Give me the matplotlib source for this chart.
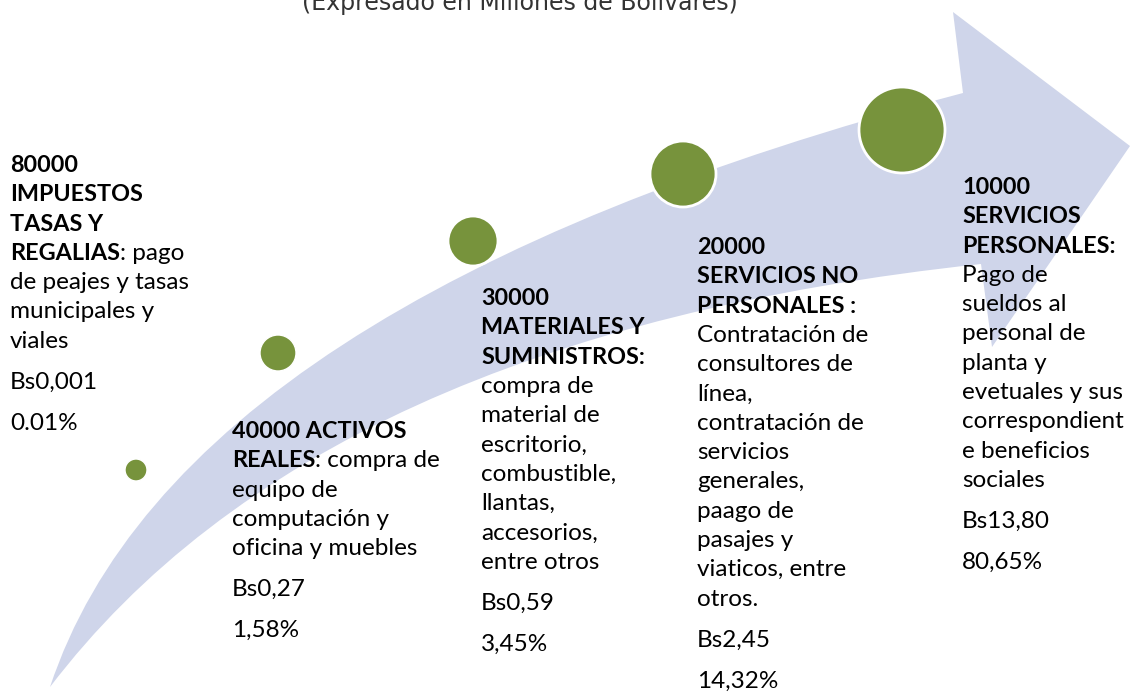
import matplotlib.pyplot as plt
from matplotlib.path import Path
from matplotlib.patches import PathPatch, Circle

# partidas del presupuesto (texto de cada bloque, *negrita*)
codigos = ["80000", "40000", "30000", "20000", "10000"]
bloques = [
    ["*80000*", "*IMPUESTOS*", "*TASAS Y*", "*REGALIAS*: pago",
     "de peajes y tasas", "municipales y", "viales"],
    ["*40000 ACTIVOS*", "*REALES*: compra de", "equipo de",
     "computación y", "oficina y muebles"],
    ["*30000*", "*MATERIALES Y*", "*SUMINISTROS:*", "compra de",
     "material de", "escritorio,", "combustible,", "llantas,",
     "accesorios,", "entre otros"],
    ["*20000*", "*SERVICIOS NO*", "*PERSONALES :*", "Contratación de",
     "consultores de", "línea,", "contratación de", "servicios",
     "generales,", "paago de", "pasajes y", "viaticos, entre", "otros."],
    ["*10000*", "*SERVICIOS*", "*PERSONALES:*", "Pago de", "sueldos al",
     "personal de", "planta y", "evetuales y sus", "correspondient",
     "e beneficios", "sociales"],
]
montos = ["Bs0,001", "Bs0,27", "Bs0,59", "Bs2,45", "Bs13,80"]
porcentajes = ["0.01%", "1,58%", "3,45%", "14,32%", "80,65%"]

# layout en pixeles
bloque_x = [10, 232, 481, 697, 962]
bloque_y = [165, 431, 298, 247, 187]
circ_x = [136, 278, 473, 683, 902]
circ_y = [470, 353, 241, 174, 130]
circ_r = [11, 18, 25, 33, 43]

FONT = "Lato"
FS_REG = 17.5
FS_BOLD = 16.8

fig = plt.figure(figsize=(11.31, 6.92), dpi=100)
ax = fig.add_axes([0, 0, 1, 1])
ax.set_xlim(0, 1131)
ax.set_ylim(692, 0)
ax.axis("off")

# flecha curva
verts = [(50, 687), (178, 300), (963, 93),
         (953, 12), (1130, 146), (992, 347), (981, 264),
         (318, 335), (50, 687)]
codes = [Path.MOVETO, Path.CURVE3, Path.CURVE3,
         Path.LINETO, Path.LINETO, Path.LINETO, Path.LINETO,
         Path.CURVE3, Path.CURVE3]
ax.add_patch(PathPatch(Path(verts, codes), fc="#cfd5ea", ec="none", zorder=1))

for x, y, r in zip(circ_x, circ_y, circ_r):
    ax.add_patch(Circle((x, y), r, fc="#77933c", ec="white",
                        lw=2 if r > 20 else 1, zorder=2))

ax.text(520, 10, "(Expresado en Millones de Bolivares)", ha="center",
        va="baseline", fontsize=17, color="#333333", family="DejaVu Sans")

renderer = fig.canvas.get_renderer()


def linea(x, y, s):
    partes = s.split("*")
    for i, p in enumerate(partes):
        if not p:
            continue
        bold = i % 2 == 1
        t = ax.text(x, y + 7, p, ha="left", va="baseline",
                    fontsize=FS_BOLD if bold else FS_REG, family=FONT,
                    fontweight="bold" if bold else "normal",
                    color="black", zorder=3)
        x += t.get_window_extent(renderer).width


for k in range(len(codigos)):
    x, y = bloque_x[k], bloque_y[k]
    for j, s in enumerate(bloques[k]):
        linea(x, y + j * 29.3, s)
    yl = y + (len(bloques[k]) - 1) * 29.3
    linea(x, yl + 41, montos[k])
    linea(x, yl + 82, porcentajes[k])

fig.savefig("out.png", dpi=100)
